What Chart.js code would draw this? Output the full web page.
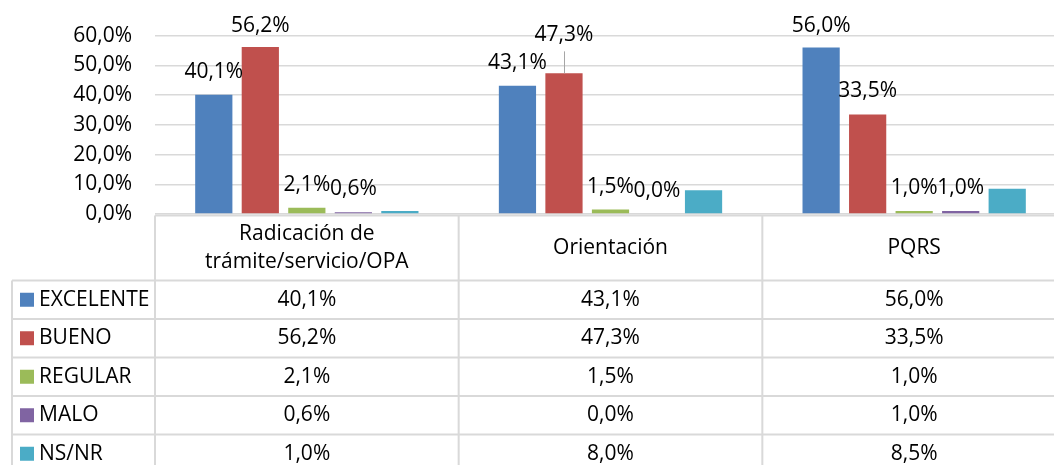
<!DOCTYPE html>
<html>
<head>
<meta charset="utf-8">
<script src="https://cdn.jsdelivr.net/npm/chart.js@4.4.0/dist/chart.umd.min.js"></script>
<style>
html,body{margin:0;padding:0;background:#fff;overflow:hidden;width:1054px;height:465px;}
canvas{display:block;}
</style>
</head>
<body>
<canvas id="c" width="1066" height="465"></canvas>
<script>
// ---- data ----
const categories = [['Radicación de', 'trámite/servicio/OPA'], ['Orientación'], ['PQRS']];
const seriesNames = ['EXCELENTE', 'BUENO', 'REGULAR', 'MALO', 'NS/NR'];
const excelente = [40.1, 43.1, 56.0];
const bueno     = [56.2, 47.3, 33.5];
const regular   = [2.1, 1.5, 1.0];
const malo      = [0.6, 0.0, 1.0];
const nsnr      = [1.0, 8.0, 8.5];
const yTickValues = [0, 10, 20, 30, 40, 50, 60];

// ---- styles ----
const colors = ['#4F81BD', '#C0504D', '#9BBB59', '#8064A2', '#4BACC6'];
const showBarLabels = [true, true, true, true, false];
const FONT = '"Open Sans", "DejaVu Sans", sans-serif';
const FSIZE = 21;
const GRID = '#D9D9D9';
const fmt = v => v.toFixed(1).replace('.', ',') + '%';

const seriesValues = [excelente, bueno, regular, malo, nsnr];

const labelPlugin = {
  id: 'barLabels',
  afterDatasetsDraw(chart) {
    const ctx = chart.ctx;
    ctx.save();
    ctx.font = FSIZE + 'px ' + FONT;
    ctx.fillStyle = '#000';
    ctx.textAlign = 'center';
    ctx.textBaseline = 'middle';
    chart.data.datasets.forEach((ds, di) => {
      if (!showBarLabels[di]) return;
      const meta = chart.getDatasetMeta(di);
      meta.data.forEach((bar, i) => {
        let dy = 23;
        const v = ds.data[i];
        if (v > 55) dy = 21;
        let leader = false;
        if (di === 1 && i === 1) { dy = 38; leader = true; }
        if (leader) {
          ctx.save();
          ctx.strokeStyle = '#A6A6A6';
          ctx.lineWidth = 1;
          ctx.beginPath();
          ctx.moveTo(Math.round(bar.x) + 0.5, bar.y - dy + 16);
          ctx.lineTo(Math.round(bar.x) + 0.5, bar.y);
          ctx.stroke();
          ctx.restore();
        }
        ctx.fillText(fmt(v), bar.x, bar.y - dy);
      });
    });
    ctx.restore();
  }
};

const tablePlugin = {
  id: 'dataTable',
  afterDraw(chart) {
    const ctx = chart.ctx;
    const ca = chart.chartArea;
    const xs = chart.scales.x;
    const n = categories.length;
    const colW = (ca.right - ca.left) / n;
    const top = ca.bottom + 1.5;
    const headerH = 65;
    const rowH = 38.5;
    const tableLeft = 12;
    const bottom = top + headerH + rowH * seriesNames.length;
    ctx.save();
    ctx.strokeStyle = GRID;
    ctx.lineWidth = 2;
    ctx.beginPath();
    for (let i = 0; i <= n; i++) {
      const x = ca.left + i * colW;
      ctx.moveTo(x, top); ctx.lineTo(x, bottom);
    }
    ctx.moveTo(tableLeft, top + headerH); ctx.lineTo(tableLeft, bottom);
    ctx.moveTo(ca.left, top); ctx.lineTo(ca.right, top);
    for (let r = 0; r <= seriesNames.length; r++) {
      const y = top + headerH + r * rowH;
      ctx.moveTo(tableLeft, y); ctx.lineTo(ca.right, y);
    }
    ctx.stroke();

    ctx.font = FSIZE + 'px ' + FONT;
    ctx.fillStyle = '#000';
    ctx.textBaseline = 'middle';
    ctx.textAlign = 'center';
    // header
    categories.forEach((lines, i) => {
      const cx = xs.getPixelForValue(i);
      const lh = 28;
      const cy = top + headerH / 2;
      lines.forEach((ln, k) => {
        ctx.fillText(ln, cx, cy + (k - (lines.length - 1) / 2) * lh);
      });
    });
    // rows
    seriesNames.forEach((name, r) => {
      const cy = top + headerH + r * rowH + rowH / 2;
      ctx.fillStyle = colors[r];
      ctx.fillRect(20, cy - 7, 14, 14);
      ctx.fillStyle = '#000';
      ctx.textAlign = 'left';
      ctx.fillText(name, 39, cy);
      ctx.textAlign = 'center';
      seriesValues[r].forEach((v, i) => {
        ctx.fillText(fmt(v), xs.getPixelForValue(i), cy);
      });
    });
    ctx.restore();
  }
};

new Chart(document.getElementById('c'), {
  type: 'bar',
  data: {
    labels: categories,
    datasets: seriesNames.map((name, i) => ({
      label: name,
      data: seriesValues[i],
      backgroundColor: colors[i],
      borderWidth: 0,
      categoryPercentage: 0.766,
      barPercentage: 0.8
    }))
  },
  options: {
    responsive: false,
    animation: false,
    layout: { padding: { top: 32, left: 0, right: 0, bottom: 0 } },
    plugins: { legend: { display: false }, tooltip: { enabled: false } },
    scales: {
      x: {
        display: true,
        grid: { display: false },
        border: { display: false },
        ticks: { display: false },
        afterFit(scale) { scale.height = 251; }
      },
      y: {
        min: 0, max: 60,
        afterBuildTicks(scale) { scale.ticks = yTickValues.map(v => ({ value: v })); },
        grid: { color: GRID, lineWidth: 1.5, drawTicks: false },
        border: { display: false },
        ticks: {
          padding: 23,
          color: '#000',
          font: { family: FONT, size: FSIZE },
          callback: v => fmt(v)
        },
        afterFit(scale) { scale.width = 155; }
      }
    }
  },
  plugins: [labelPlugin, tablePlugin]
});
</script>
</body>
</html>
